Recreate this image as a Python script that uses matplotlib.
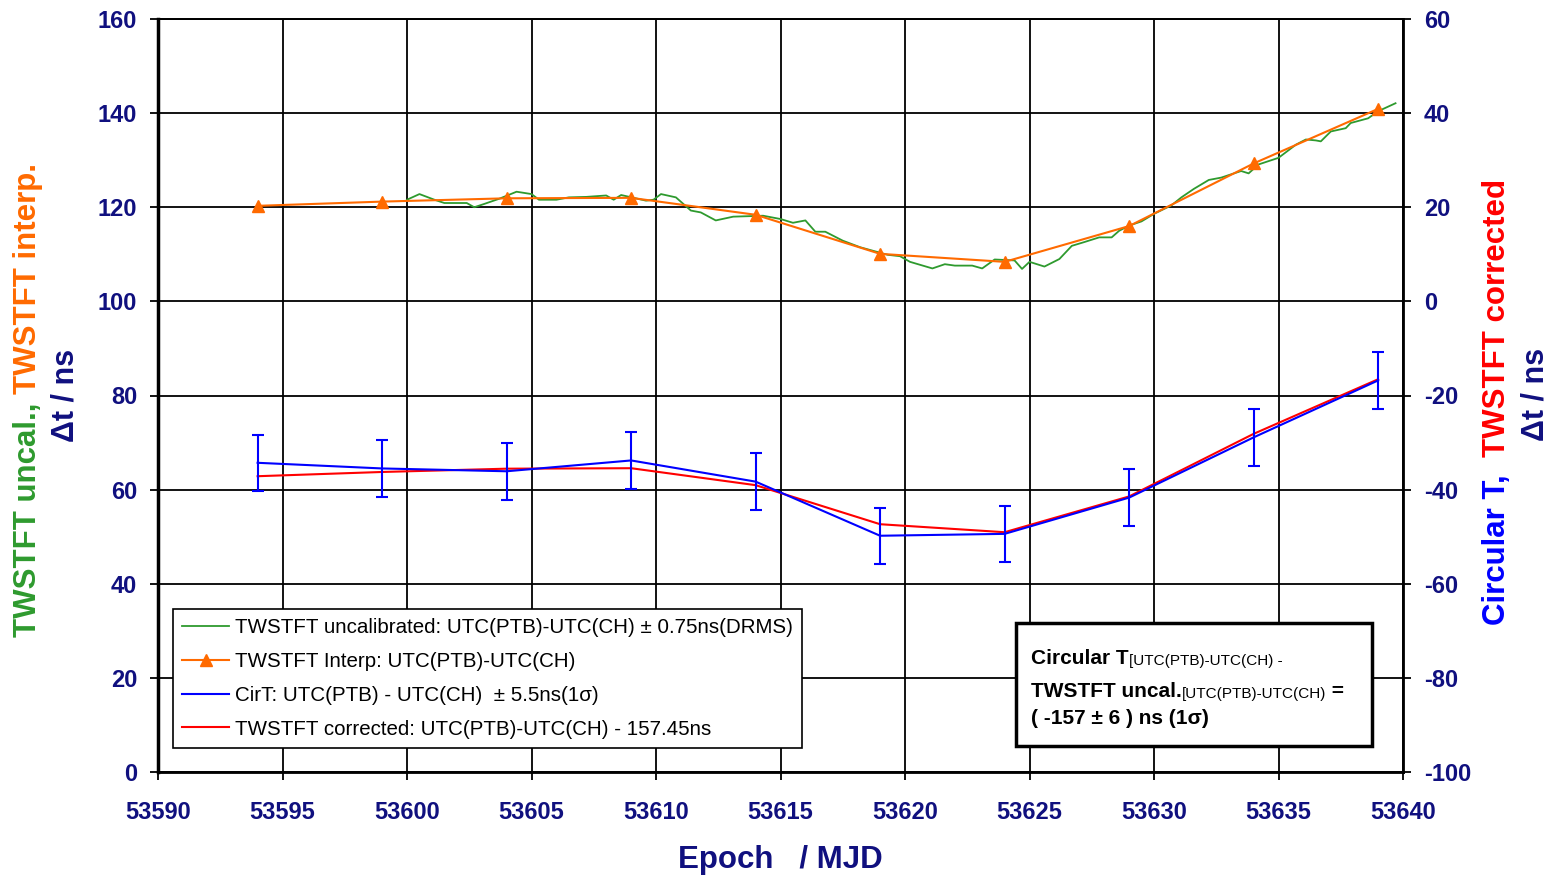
import matplotlib
matplotlib.use('Agg')
import matplotlib.pyplot as plt
from matplotlib.patches import Rectangle
from matplotlib.text import Annotation

plt.rcParams['font.family'] = ['Liberation Sans', 'DejaVu Sans']
plt.rcParams['axes.unicode_minus'] = False

# data
# 5-day points (TWSTFT interp., Circular T)
mjd_5d = [53594, 53599, 53604, 53609, 53614, 53619, 53624, 53629, 53634, 53639]
twstft_interp = [120.3, 121.2, 121.9, 122.0, 118.4, 110.1, 108.4, 116.0, 129.3, 140.9]
cirt = [-34.3, -35.5, -36.1, -33.8, -38.3, -49.8, -49.4, -41.7, -28.9, -16.8]
cirt_err = [6, 6, 6, 6, 6, 6, 6, 6, 6, 6]
offset = 157.45  # correction in ns

# TWSTFT uncalibrated (sub-daily)
green_mjd = [53600.0, 53600.5, 53601.1, 53601.5, 53602.4, 53602.7, 53603.1, 53603.7,
             53604.4, 53605.0, 53605.3, 53606.0, 53606.5, 53607.2, 53608.0, 53608.3,
             53608.6, 53609.6, 53609.9, 53610.2, 53610.8, 53611.4, 53611.8, 53612.4,
             53613.1, 53614.3, 53615.0, 53615.5, 53616.0, 53616.4, 53616.8, 53617.5,
             53618.2, 53619.3, 53619.8, 53620.2, 53621.1, 53621.6, 53622.0, 53622.7,
             53623.1, 53623.6, 53624.4, 53624.7, 53625.0, 53625.6, 53626.2, 53626.7,
             53627.2, 53627.8, 53628.3, 53628.6, 53629.0, 53629.5, 53630.0, 53630.7,
             53631.1, 53631.6, 53632.2, 53632.7, 53633.1, 53633.5, 53633.8, 53634.2,
             53635.0, 53635.7, 53636.1, 53636.5, 53636.7, 53637.1, 53637.7, 53637.9,
             53638.6, 53639.0, 53639.7]
green_val = [121.6, 122.8, 121.6, 120.9, 120.9, 120.0, 120.7, 121.8,
             123.3, 122.8, 121.6, 121.6, 122.1, 122.2, 122.5, 121.6,
             122.6, 121.4, 121.6, 122.8, 122.1, 119.3, 118.9, 117.2,
             118.0, 118.2, 117.5, 116.7, 117.2, 114.8, 114.8, 112.9,
             111.5, 109.9, 109.6, 108.4, 107.0, 107.9, 107.6, 107.6,
             107.0, 108.9, 108.7, 106.9, 108.4, 107.4, 109.0, 111.8,
             112.6, 113.6, 113.6, 115.0, 116.1, 117.0, 118.6, 120.4,
             122.1, 123.9, 125.8, 126.3, 127.0, 127.7, 127.2, 129.1,
             130.5, 133.3, 134.4, 134.2, 134.0, 136.1, 136.8, 137.9,
             138.9, 140.4, 142.1]

navy = '#10107F'
c_green = '#2E9A2E'
c_orange = '#FF6A00'
c_blue = '#0000FF'
c_red = '#FF0000'

fig = plt.figure(figsize=(15.56, 8.81), dpi=100)
ax = fig.add_axes([158/1556, 109/881, 1245/1556, 753/881])
ax2 = ax.twinx()

ax.set_xlim(53590, 53640)
ax.set_ylim(0, 160)
ax2.set_ylim(-100, 60)
ax.set_xticks(range(53590, 53641, 5))
ax.set_yticks(range(0, 161, 20))
ax2.set_yticks(range(-100, 61, 20))
ax.grid(True, color='black', lw=1.3)

for a in (ax, ax2):
    a.tick_params(direction='out', length=6, width=1.3, pad=9)
    for lab in a.get_xticklabels() + a.get_yticklabels():
        lab.set_fontsize(17)
        lab.set_fontweight('bold')
        lab.set_color(navy)
ax.tick_params(axis='x', pad=15)
ax.spines['left'].set_linewidth(2.5)
ax.spines['bottom'].set_linewidth(2)
ax2.spines['right'].set_linewidth(2)
for a in (ax, ax2):
    a.spines['top'].set_linewidth(1.3)

# lines
g, = ax.plot(green_mjd, green_val, color=c_green, lw=1.3, zorder=3)
o, = ax.plot(mjd_5d, twstft_interp, color=c_orange, lw=1.5, marker='^', ms=8, zorder=4)
corrected = [v - offset for v in twstft_interp]
r, = ax2.plot(mjd_5d, corrected, color=c_red, lw=1.5, zorder=3)
b, = ax2.plot(mjd_5d, cirt, color=c_blue, lw=1.5, zorder=4)
ax2.errorbar(mjd_5d, cirt, yerr=cirt_err, fmt='none', ecolor=c_blue, elinewidth=1.5,
             capsize=4.5, capthick=1.5, zorder=4)

labels = ['TWSTFT uncalibrated: UTC(PTB)-UTC(CH) \u00b1 0.75ns(DRMS)',
          'TWSTFT Interp: UTC(PTB)-UTC(CH)',
          'CirT: UTC(PTB) - UTC(CH)  \u00b1 5.5ns(1\u03c3)',
          'TWSTFT corrected: UTC(PTB)-UTC(CH) - 157.45ns']
leg = ax2.legend([g, o, b, r], labels, loc='lower left', bbox_to_anchor=(0.012, 0.032),
                 fontsize=14.8, fancybox=False, edgecolor='black', framealpha=1,
                 handlelength=2.3, handletextpad=0.25, labelspacing=0.72,
                 borderaxespad=0, borderpad=0.45)
leg.get_frame().set_linewidth(1.2)

# result box
fig.patches.append(Rectangle((1016/1556, (881-746)/881), 356/1556, 123/881,
                             transform=fig.transFigure, facecolor='white',
                             edgecolor='black', lw=2.5, zorder=10))


def chain(x, y, parts):
    # parts: list of (text, fontsize, weight), placed one after the other
    txt, fs, fw = parts[0]
    prev = fig.text(x, y, txt, fontsize=fs, fontweight=fw, va='bottom', zorder=11)
    for txt, fs, fw in parts[1:]:
        prev = fig.add_artist(Annotation(txt, xy=(1, 0), xycoords=prev, fontsize=fs,
                                         fontweight=fw, va='bottom', ha='left',
                                         annotation_clip=False, zorder=11))
    return prev


chain(1031/1556, (881-668)/881, [('Circular T', 15, 'bold'),
                                 ('[UTC(PTB)-UTC(CH) -', 11, 'normal')])
chain(1031/1556, (881-701)/881, [('TWSTFT uncal.', 15, 'bold'),
                                 ('[UTC(PTB)-UTC(CH)', 11, 'normal'), (' =', 15, 'bold')])
fig.text(1031/1556, (881-728)/881, '( -157 \u00b1 6 ) ns (1\u03c3)', fontsize=15,
         fontweight='bold', va='bottom', zorder=11)

# axis labels
fig.text(780/1556, (881-860)/881, 'Epoch   / MJD', fontsize=22.5, fontweight='bold',
         color=navy, ha='center', va='center')

lab_kw = dict(fontsize=22.5, fontweight='bold', rotation=90, ha='center', va='bottom')
t = fig.text(28/1556, (881-637)/881, 'TWSTFT uncal., ', color=c_green, **lab_kw)
fig.add_artist(Annotation('TWSTFT interp.', xy=(0.5, 1), xycoords=t, color=c_orange,
                          annotation_clip=False, **lab_kw))
fig.text(65/1556, (881-395)/881, '\u0394t / ns', color=navy, fontsize=22,
         fontweight='bold', rotation=90, ha='center', va='center')

t = fig.text(1497/1556, (881-625)/881, 'Circular T,  ', color=c_blue, **lab_kw)
fig.add_artist(Annotation('TWSTFT corrected', xy=(0.5, 1), xycoords=t, color=c_red,
                          annotation_clip=False, **lab_kw))
fig.text(1535/1556, (881-394)/881, '\u0394t / ns', color=navy, fontsize=22,
         fontweight='bold', rotation=90, ha='center', va='center')

fig.savefig('out.png', dpi=100, facecolor='white')
